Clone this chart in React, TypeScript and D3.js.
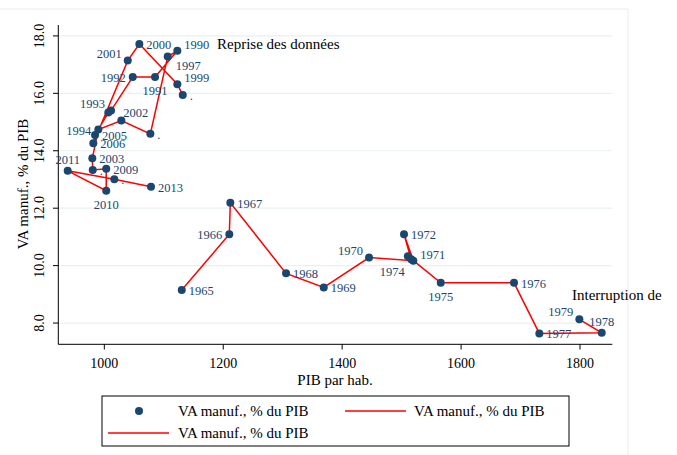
import React from "react";
import * as d3 from "d3";

// 1965-1979 series (in drawing order)
const earlyYears = ["1965", "1966", "1967", "1968", "1969", "1970", "1971", "1972", "1973", "1974", "1975", "1976", "1977", "1978", "1979"];
const earlyPib = [1130.2, 1210.2, 1211.9, 1305.6, 1369, 1445.2, 1519.7, 1504, 1516, 1510.5, 1565.8, 1689, 1731.6, 1836.5, 1798.9];
const earlyVa = [9.15, 11.09, 12.19, 9.73, 9.24, 10.28, 10.17, 11.09, 10.22, 10.33, 9.4, 9.4, 7.64, 7.66, 8.13];
const earlyLabels = ["1965", "1966", "1967", "1968", "1969", "1970", "1971", "1972", "", "1974", "1975", "1976", "1977", "1978", "1979"];

// 1990-2013 series (in drawing order)
const lateLabels = [".", "1999", "2000", "2001", "2006", "2005", "", "1993", "1992", "1991", "1990", "1997", ".", "2002", "1994", "2003", ".", "2009", "2010", "2011", ".", "2013"];
const latePib = [1131.9, 1122.8, 1058.9, 1039.4, 981.5, 984.4, 1006.7, 1011.3, 1047.8, 1085.3, 1122.8, 1106.6, 1077.4, 1028.6, 989.9, 979.8, 980.5, 1003.2, 1003.2, 938.4, 1016.8, 1078.5];
const lateVa = [15.94, 16.32, 17.72, 17.14, 14.26, 14.55, 15.33, 15.4, 16.57, 16.57, 17.48, 17.28, 14.59, 15.05, 14.74, 13.74, 13.33, 13.37, 12.61, 13.3, 13.01, 12.75];

const yTicks = [8, 10, 12, 14, 16, 18];
const xTicks = [1000, 1200, 1400, 1600, 1800];
const legendText = "VA manuf., % du PIB";

// label clock positions (style, parallel to the label arrays)
const earlyPos = [3, 9, 3, 3, 3, 10, 2, 3, 3, 7, 6, 3, 3, 12, 10];
const latePos = [3, 2, 3, 10, 3, 3, 3, 10, 9, 6, 2, 4, 3, 1, 9, 3, 3, 3, 6, 12, 3, 3];

const navy = "#1a476f";
const font = "Liberation Serif, Times New Roman, DejaVu Serif, serif";

function offset(pos: number) {
  switch (pos) {
    case 1: return { dx: 2, dy: -4, a: "start" };
    case 2: return { dx: 7, dy: -2, a: "start" };
    case 4: return { dx: 8, dy: 13, a: "start" };
    case 6: return { dx: 0, dy: 18, a: "middle" };
    case 7: return { dx: -3, dy: 20, a: "end" };
    case 9: return { dx: -7, dy: 5, a: "end" };
    case 10: return { dx: -6, dy: -3, a: "end" };
    case 12: return { dx: 0, dy: -7, a: "middle" };
    default: return { dx: 7, dy: 5, a: "start" };
  }
}

export default function App() {
  const x = d3.scaleLinear().domain([922.6, 1854.3]).range([58.3, 612.3]);
  const y = d3.scaleLinear().domain([7.27, 18.38]).range([344, 25]);

  const line = d3
    .line<number[]>()
    .x((d) => x(d[0]))
    .y((d) => y(d[1]));

  const early = earlyPib.map((p, i) => [p, earlyVa[i]]);
  const late = latePib.map((p, i) => [p, lateVa[i]]);

  const pts = [
    ...early.map((d, i) => ({ d, lab: earlyLabels[i], pos: earlyPos[i] })),
    ...late.map((d, i) => ({ d, lab: lateLabels[i], pos: latePos[i] })),
  ];

  return (
    <svg width={677} height={455} style={{ position: "absolute", left: 0, top: 0, background: "#fff", fontFamily: font }}>
      <rect width={677} height={455} fill="#fff" />
      {/* outer region border */}
      <line x1={0} x2={628} y1={9} y2={9} stroke="#e6eef0" />
      <line x1={628} x2={628} y1={9} y2={455} stroke="#e6eef0" />

      {/* grid */}
      {yTicks.map((t) => (
        <line key={"g" + t} x1={58.3} x2={612.3} y1={y(t)} y2={y(t)} stroke="#e8f0f2" strokeWidth={1.2} />
      ))}

      {/* axes */}
      <line x1={58.3} x2={58.3} y1={25} y2={344.3} stroke="#000" />
      <line x1={58.3} x2={612.3} y1={344.3} y2={344.3} stroke="#000" />
      {yTicks.map((t) => (
        <g key={"y" + t}>
          <line x1={53} x2={58.3} y1={y(t)} y2={y(t)} stroke="#000" />
          <text x={44} y={y(t)} fontSize={14} textAnchor="middle" transform={`rotate(-90, 44, ${y(t)})`}>
            {d3.format(".1f")(t)}
          </text>
        </g>
      ))}
      {xTicks.map((t) => (
        <g key={"x" + t}>
          <line x1={x(t)} x2={x(t)} y1={344.3} y2={349.5} stroke="#000" />
          <text x={x(t)} y={368} fontSize={14} textAnchor="middle">{t}</text>
        </g>
      ))}
      <text x={335} y={385} fontSize={15} textAnchor="middle">PIB par hab.</text>
      <text x={28} y={184} fontSize={15} textAnchor="middle" transform="rotate(-90, 28, 184)">{legendText}</text>

      {/* lines */}
      <path d={line(early) || ""} fill="none" stroke="#ff0000" strokeWidth={1.5} />
      <path d={line(late) || ""} fill="none" stroke="#ff0000" strokeWidth={1.5} />

      {/* points */}
      {pts.map((p, i) => (
        <circle key={"c" + i} cx={x(p.d[0])} cy={y(p.d[1])} r={4} fill={navy} />
      ))}
      {pts.map((p, i) => {
        const o = offset(p.pos);
        return p.lab ? (
          <text key={"t" + i} x={x(p.d[0]) + o.dx} y={y(p.d[1]) + o.dy} fontSize={12.5} fill={navy} textAnchor={o.a}>
            {p.lab}
          </text>
        ) : null;
      })}

      {/* notes */}
      <text x={217} y={49} fontSize={15}>Reprise des données</text>
      <text x={572} y={300} fontSize={15}>Interruption de</text>

      {/* legend */}
      <rect x={102} y={396} width={467} height={50} fill="#fff" stroke="#000" />
      <circle cx={139} cy={411} r={4} fill={navy} />
      <text x={178} y={416} fontSize={15}>{legendText}</text>
      <line x1={345} x2={406} y1={411} y2={411} stroke="#ff0000" strokeWidth={1.5} />
      <text x={414} y={416} fontSize={15}>{legendText}</text>
      <line x1={108} x2={169} y1={433} y2={433} stroke="#ff0000" strokeWidth={1.5} />
      <text x={178} y={438} fontSize={15}>{legendText}</text>
    </svg>
  );
}
